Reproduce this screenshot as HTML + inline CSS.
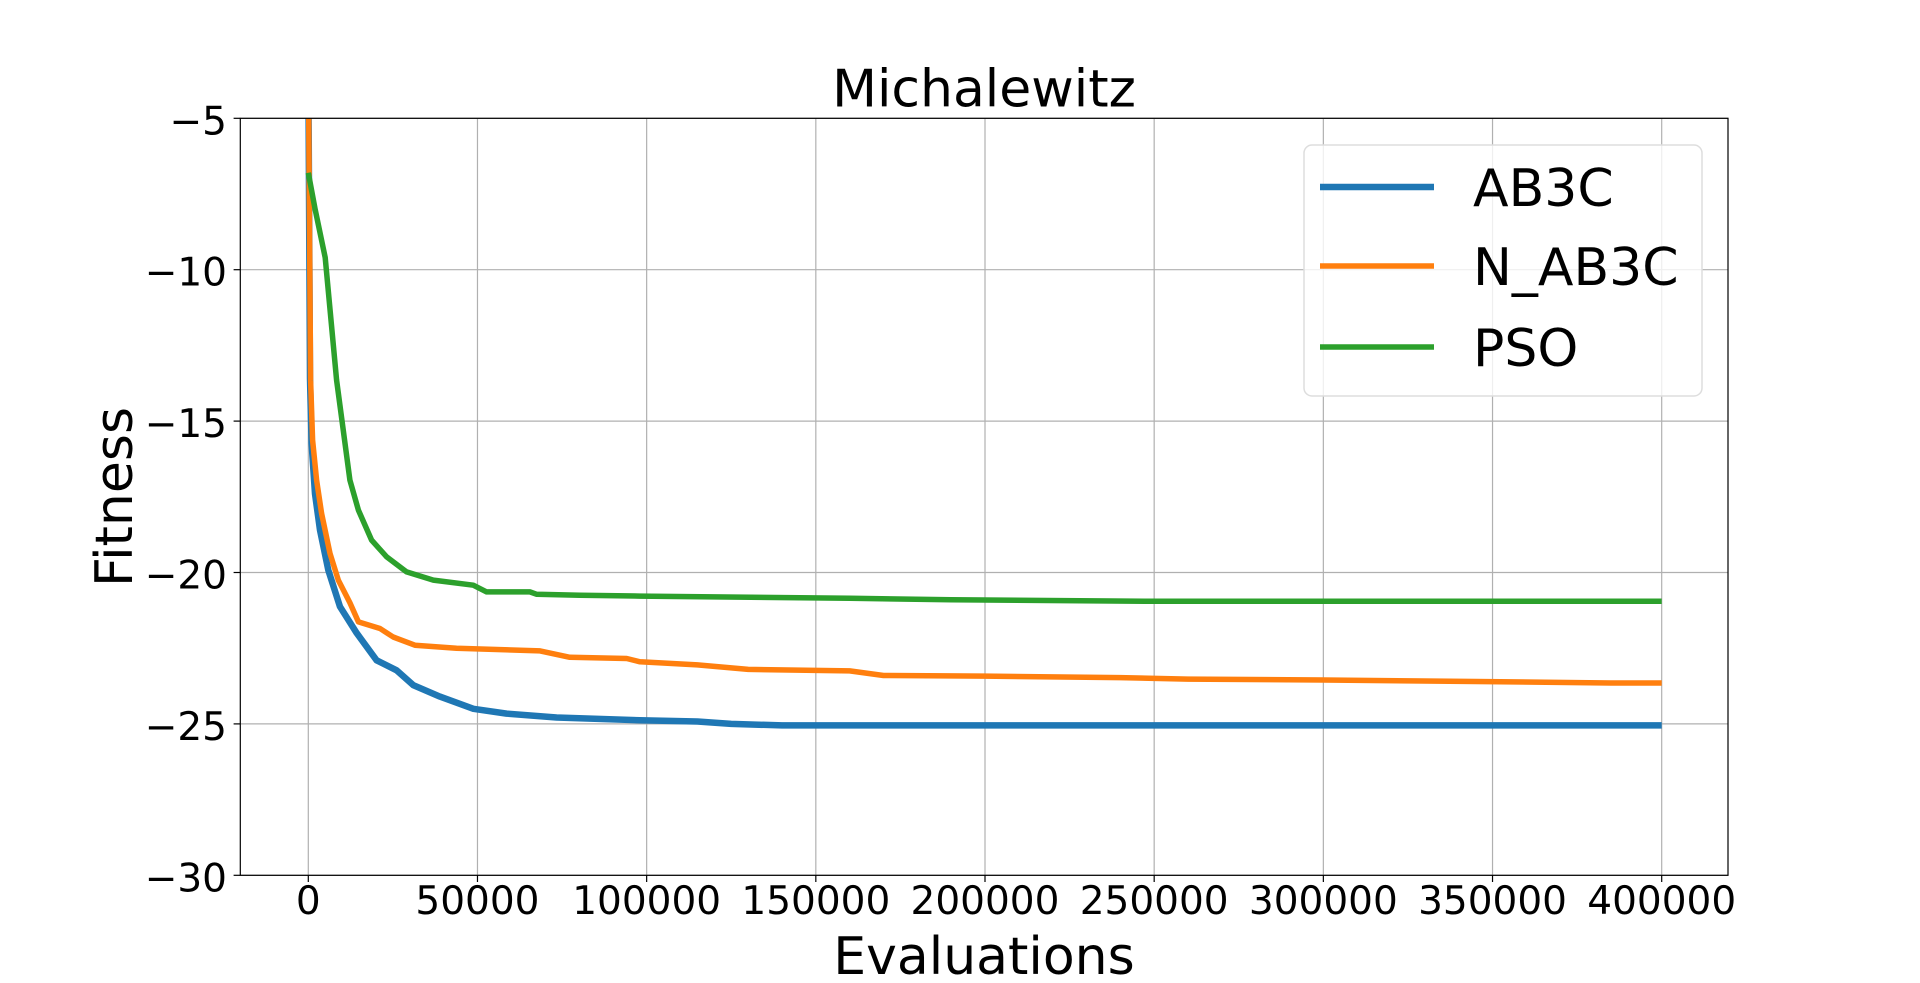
<!DOCTYPE html>
<html><head><meta charset="utf-8"><style>
html,body{margin:0;padding:0;background:#fff;width:1920px;height:983px;overflow:hidden}
svg text{font-family:"DejaVu Sans","Liberation Sans",sans-serif;fill:#000}
</style></head><body>
<svg id="chart" width="1920" height="983" xmlns="http://www.w3.org/2000/svg">
<defs><clipPath id="plotclip"><rect x="240.3" y="118.3" width="1487.7" height="757"/></clipPath></defs>
<g id="grid"></g>
<g id="series" clip-path="url(#plotclip)"></g>
<rect x="240.3" y="118.3" width="1487.7" height="757" fill="none" stroke="#000" stroke-width="1.2"/>
<g id="ticks"></g>
<text x="984" y="106.5" font-size="52" text-anchor="middle">Michalewitz</text>
<text x="984" y="974" font-size="52" text-anchor="middle">Evaluations</text>
<text transform="translate(132,497) rotate(-90)" font-size="52" text-anchor="middle">Fitness</text>
<g>
<rect x="1304" y="145" width="398" height="251" rx="8" fill="#fff" fill-opacity="0.8" stroke="#ddd" stroke-width="1.5"/>
<line x1="1320" y1="187" x2="1434" y2="187" stroke="#1f77b4" stroke-width="6.5"/>
<text x="1473" y="206" font-size="52">AB3C</text>
<line x1="1320" y1="266" x2="1434" y2="266" stroke="#ff7f0e" stroke-width="5.5"/>
<text x="1473" y="285" font-size="52">N_AB3C</text>
<line x1="1320" y1="347" x2="1434" y2="347" stroke="#2ca02c" stroke-width="5.5"/>
<text x="1473" y="366" font-size="52">PSO</text>
</g>
</svg>
<script>
const xTicks=[0,50000,100000,150000,200000,250000,300000,350000,400000];
const yTicks=[-5,-10,-15,-20,-25,-30];
const ab3cX=[0,500,985,1970,3450,5910,9360,14290,20200,26100,31000,38900,48800,58600,73400,98000,115000,125000,140000,400000];
const ab3cY=[-3,-13.6,-15.74,-17.4,-18.6,-19.92,-21.13,-22.0,-22.9,-23.23,-23.72,-24.1,-24.5,-24.66,-24.79,-24.88,-24.92,-25.0,-25.05,-25.05];
const nab3cX=[0,690,1280,2460,3940,6400,8870,12300,14800,21200,25100,31500,43800,68500,77300,94100,98000,115000,130000,160000,170000,200000,240000,260000,300000,345000,385000,400000];
const nab3cY=[-3,-13.65,-15.63,-16.95,-18.05,-19.37,-20.25,-21.0,-21.63,-21.85,-22.13,-22.4,-22.5,-22.59,-22.8,-22.84,-22.95,-23.05,-23.2,-23.25,-23.4,-23.42,-23.47,-23.52,-23.55,-23.6,-23.65,-23.65];
const psoX=[0,2000,5000,8370,12300,14800,18700,23150,29060,36950,48770,52700,65500,67500,80300,98000,160000,190000,250000,400000];
const psoY=[-6.8,-8.0,-9.6,-13.65,-16.95,-17.94,-18.93,-19.48,-19.98,-20.25,-20.42,-20.64,-20.64,-20.72,-20.75,-20.78,-20.85,-20.9,-20.95,-20.95];
const NS='http://www.w3.org/2000/svg';
const sx=v=>308.3+(v/400000)*(1661.7-308.3);
const sy=v=>118.3+((-5-v)/25)*757;
const grid=document.getElementById('grid'),ticks=document.getElementById('ticks'),series=document.getElementById('series');
function mk(tag,attrs,parent){const e=document.createElementNS(NS,tag);for(const k in attrs)e.setAttribute(k,attrs[k]);parent.appendChild(e);return e;}
xTicks.forEach(t=>{
  const g=mk('line',{x1:sx(t),x2:sx(t),y1:118.3,y2:875.3,stroke:'#b0b0b0','stroke-width':1.2},grid);
  
  
  const tk=mk('line',{x1:sx(t),x2:sx(t),y1:875.3,y2:882,stroke:'#000','stroke-width':1.2},ticks);
  
  
  const tx=mk('text',{x:sx(t),y:914,'font-size':39,'text-anchor':'middle'},ticks);
  tx.textContent=String(t);
  
  
});
yTicks.forEach(t=>{
  const g=mk('line',{x1:240.3,x2:1728,y1:sy(t),y2:sy(t),stroke:'#b0b0b0','stroke-width':1.2},grid);
  
  
  const tk=mk('line',{x1:233.6,x2:240.3,y1:sy(t),y2:sy(t),stroke:'#000','stroke-width':1.2},ticks);
  
  
  const tx=mk('text',{x:227,y:sy(t)+16,'font-size':39,'text-anchor':'end'},ticks);
  tx.textContent='\u2212'+Math.abs(t);
  
  
});
function line(xs,ys,color,w,name){
  const d=xs.map((x,i)=>(i?'L':'M')+sx(x).toFixed(1)+','+sy(ys[i]).toFixed(1)).join(' ');
  const p=mk('path',{d:d,fill:'none',stroke:color,'stroke-width':w,'stroke-linejoin':'round'},series);
  
  
}
line(ab3cX,ab3cY,'#1f77b4',6.5,'ab3c-line');
line(nab3cX,nab3cY,'#ff7f0e',5.5,'n-ab3c-line');
line(psoX,psoY,'#2ca02c',5.5,'pso-line');
</script>
</body></html>
